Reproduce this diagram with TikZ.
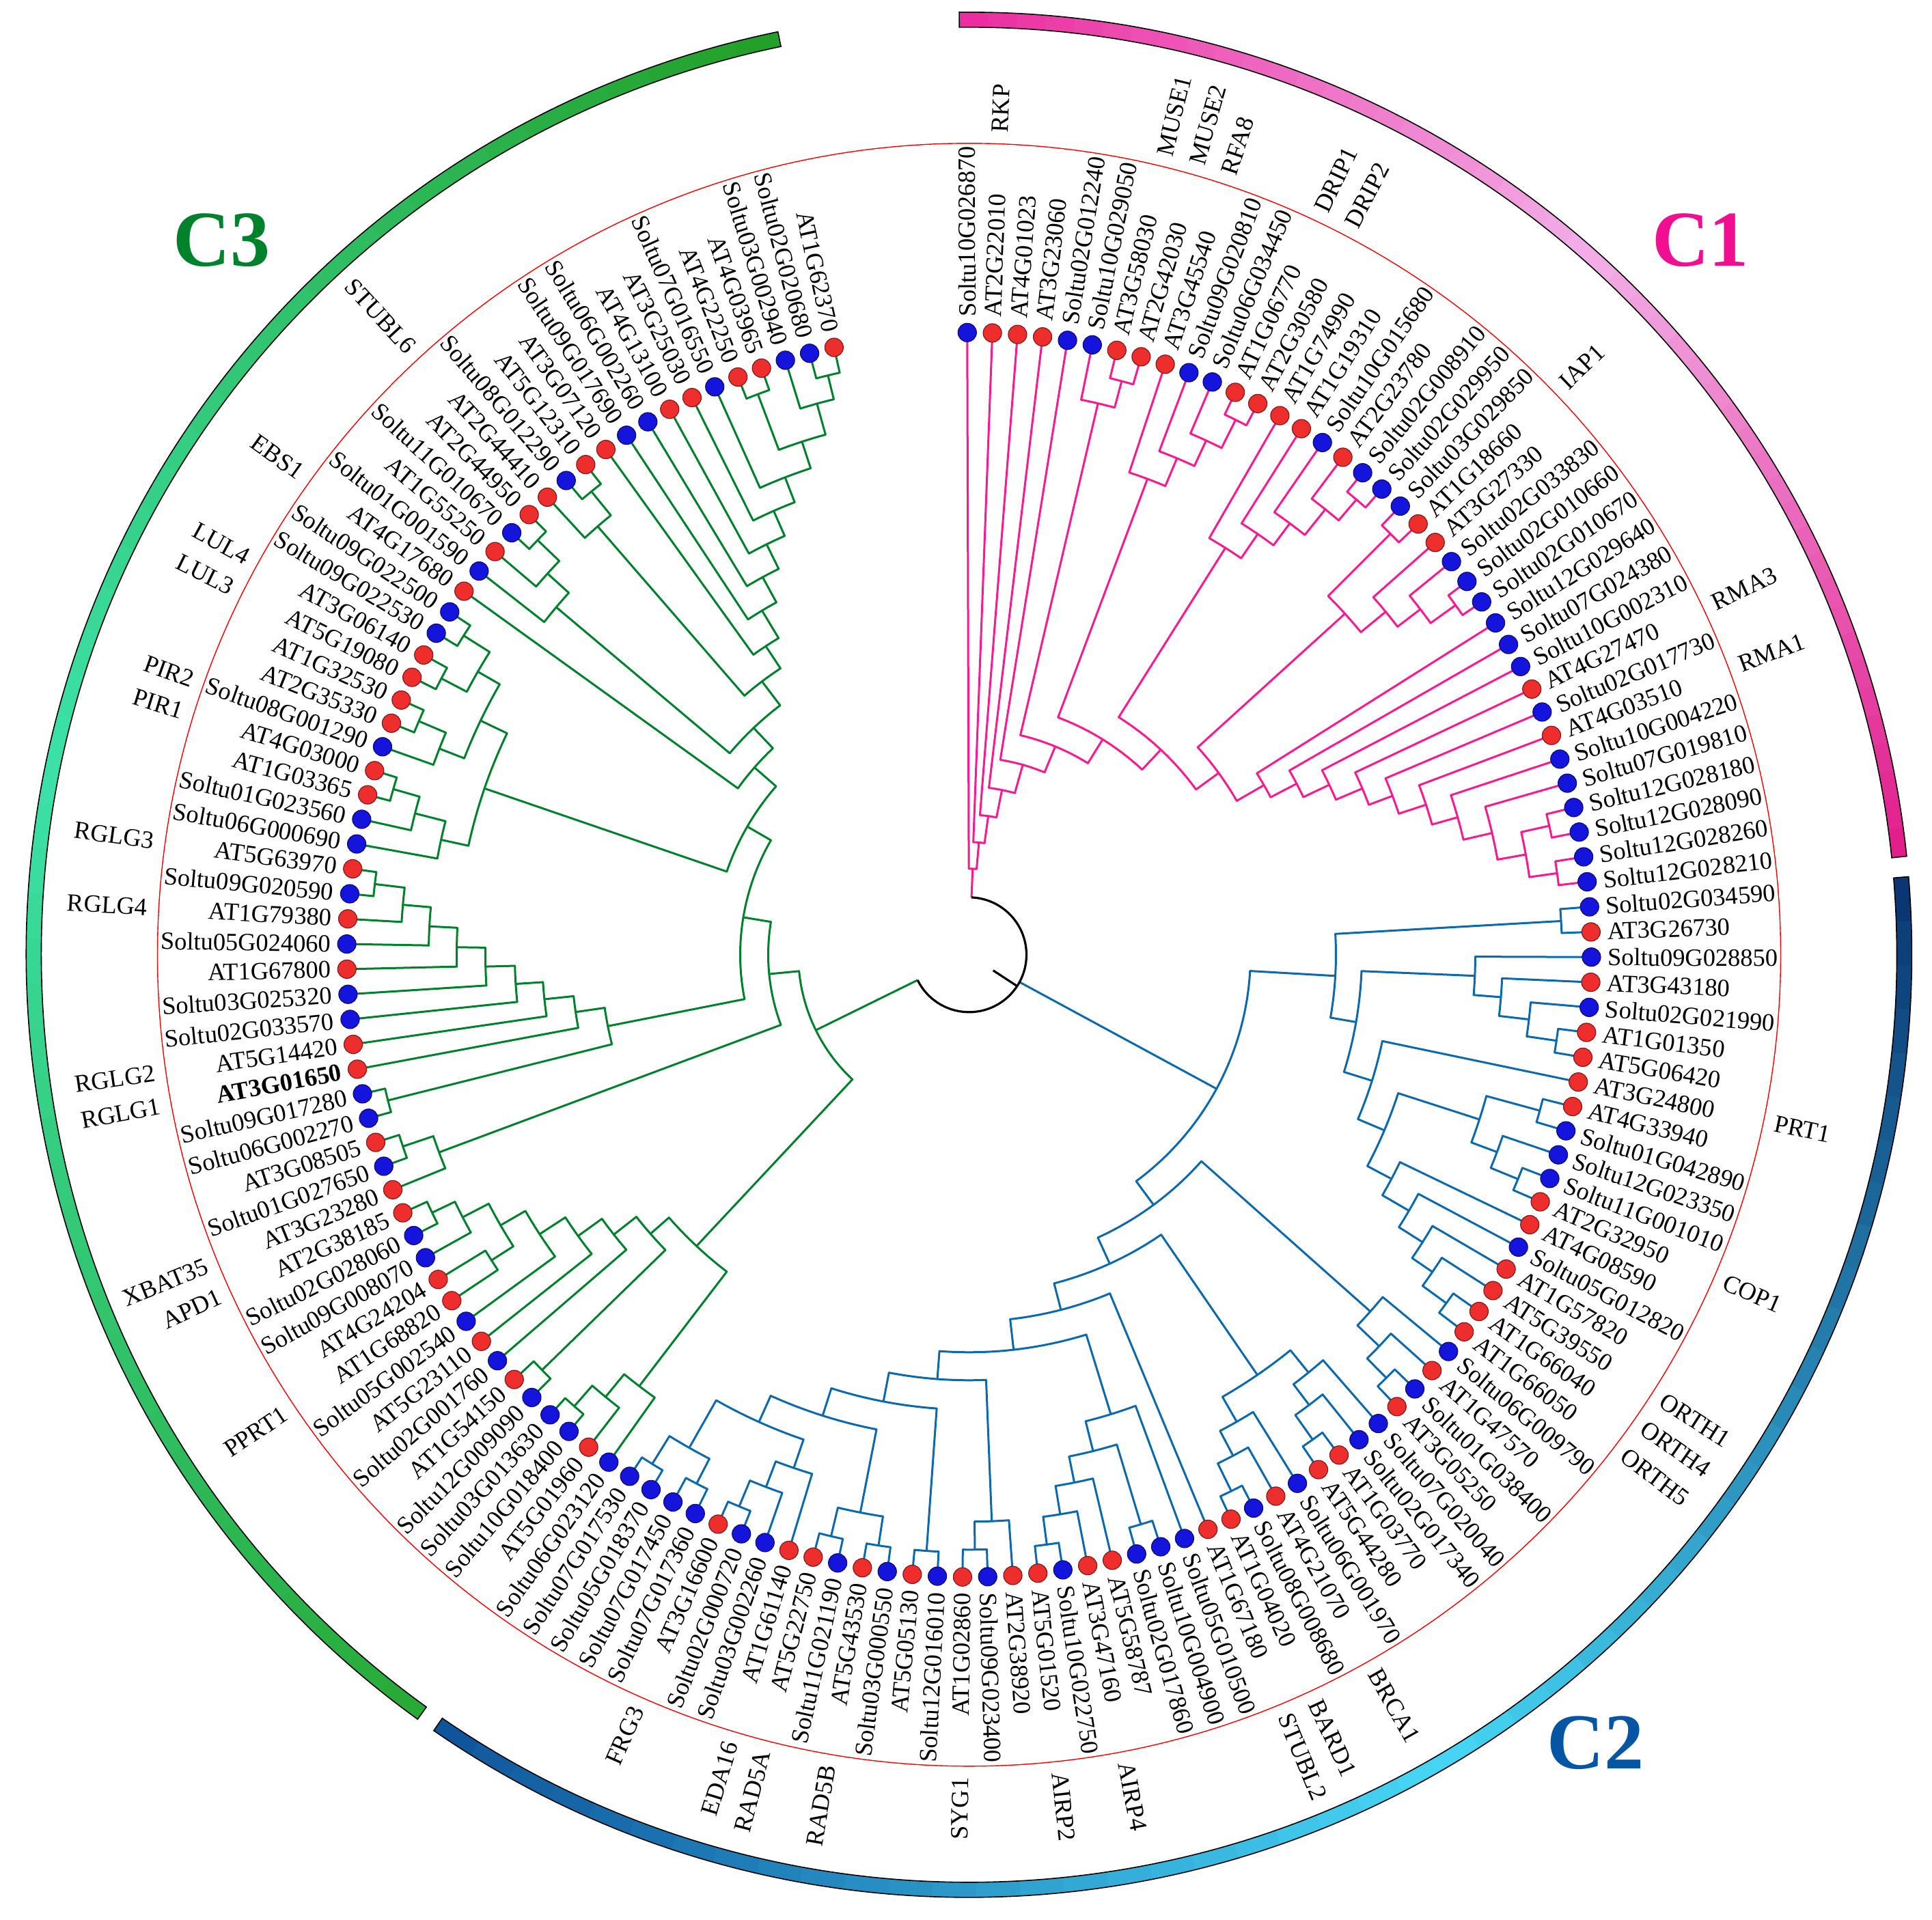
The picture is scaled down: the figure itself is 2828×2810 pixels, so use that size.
\documentclass[tikz,border=0pt]{standalone}
\usepackage{fontspec}
\setmainfont{Liberation Serif}
\usepackage{xcolor}

\definecolor{pinkline}{RGB}{250,25,145}
\definecolor{blueline}{RGB}{10,105,175}
\definecolor{greenline}{RGB}{0,130,45}
\definecolor{dotred}{RGB}{238,45,45}
\definecolor{dotblue}{RGB}{20,20,220}
\definecolor{oneA}{RGB}{235,45,160}
\definecolor{oneB}{RGB}{242,175,232}
\definecolor{oneC}{RGB}{226,30,140}
\definecolor{onetext}{RGB}{240,15,145}
\definecolor{twoA}{RGB}{10,55,115}
\definecolor{twoB}{RGB}{70,215,245}
\definecolor{twoC}{RGB}{15,85,155}
\definecolor{twotext}{RGB}{5,85,165}
\definecolor{threeA}{RGB}{40,170,55}
\definecolor{threeB}{RGB}{60,225,170}
\definecolor{threeC}{RGB}{35,160,40}

\def\astart{90.17}
\def\astep{2.3176}
\def\rleaf{911}
\def\atstr{AT}
\def\boldname{AT3G01650}

% position (in leaf steps) and radius of a tree node
\newcommand\setnode[3]{%
  \expandafter\xdef\csname tp@#1\endcsname{#2}%
  \expandafter\xdef\csname tr@#1\endcsname{#3}}
\newcommand\nodeangle[2]{\pgfmathsetmacro#1{\astart-(\csname tp@#2\endcsname-1)*\astep}}
% internal node: name, radius, children
\newcommand\inode[3]{%
  \gdef\firstch{}%
  \foreach \ch in {#3}{\ifx\firstch\empty\xdef\firstch{\ch}\fi\xdef\lastch{\ch}}%
  \nodeangle\angA{\firstch}%
  \nodeangle\angB{\lastch}%
  \draw[branch] (\angA:#2) arc[start angle=\angA,end angle=\angB,radius=#2];
  \foreach \ch in {#3}{%
    \nodeangle\angC{\ch}%
    \edef\radC{\csname tr@\ch\endcsname}%
    \draw[branch] (\angC:#2) -- (\angC:\radC);}%
  \pgfmathsetmacro\posM{(\csname tp@\firstch\endcsname+\csname tp@\lastch\endcsname)/2}%
  \setnode{#1}{\posM}{#2}%
}
\def\checkat#1#2#3\relax{\def\tmpab{#1#2}\ifx\tmpab\atstr\def\dotc{dotred}\else\def\dotc{dotblue}\fi}
% outer clade band with a three colour run
\newcommand\cladeband[5]{%
  \foreach \k in {0,...,47}{%
    \pgfmathsetmacro\bandA{#1+(#2-#1)*\k/48}%
    \pgfmathsetmacro\bandB{#1+(#2-#1)*min(\k+1.3,48)/48}%
    \ifnum\k<24 \pgfmathtruncatemacro\bandP{(23.5-\k)/23.5*100}\colorlet{bandc}{#3!\bandP!#4}%
    \else \pgfmathtruncatemacro\bandP{(\k-23.5)/23.5*100}\colorlet{bandc}{#5!\bandP!#4}\fi
    \fill[bandc] (\bandA:1358) arc[start angle=\bandA,end angle=\bandB,radius=1358]
      -- (\bandB:1380) arc[start angle=\bandB,end angle=\bandA,radius=1380] -- cycle;
  }%
  \draw[line width=0.4pt] (#1:1358) arc[start angle=#1,end angle=#2,radius=1358]
    -- (#2:1380) arc[start angle=#2,end angle=#1,radius=1380] -- cycle;
}

\begin{document}
\begin{tikzpicture}[x=0.25pt,y=0.25pt,
    lab/.style={font=\fontsize{9.1}{10}\selectfont,inner sep=0pt},
    clade/.style={font=\fontsize{29}{30}\selectfont\bfseries,inner sep=0pt}]
  \useasboundingbox (-1418.5,-1412.2) rectangle (1409.5,1397.8);

  \foreach \i in {1,...,151}{\setnode{\i}{\i}{\rleaf}}

  % C1
  \tikzset{branch/.style={pinkline,line width=0.75pt,line cap=round}}
  \inode{c78}{869}{7,8}
  \inode{nA}{829}{6,c78}
  \inode{c1213}{875}{12,13}
  \inode{b11}{829}{11,c1213}
  \inode{b10}{788}{10,b11}
  \inode{bB1}{744}{9,b10}
  \inode{c1819}{875}{18,19}
  \inode{x17}{835}{17,c1819}
  \inode{x16}{787}{16,x17}
  \inode{x15}{747}{15,x16}
  \inode{bB2a}{704}{14,x15}
  \inode{c2021}{872}{20,21}
  \inode{c2425}{877}{24,25}
  \inode{y23}{832}{23,c2425}
  \inode{y22}{790}{22,y23}
  \inode{nCa}{743}{c2021,y22}
  \inode{c3435}{870}{34,35}
  \inode{c3637}{869}{36,37}
  \inode{z34}{828}{c3435,c3637}
  \inode{z33}{786}{33,z34}
  \inode{z32}{743}{32,z33}
  \inode{z31}{704}{31,z32}
  \inode{z30}{662}{30,z31}
  \inode{z29}{625}{29,z30}
  \inode{z28}{583}{28,z29}
  \inode{z27}{541}{27,z28}
  \inode{z26}{498}{26,z27}
  \inode{bB2b}{452}{nCa,z26}
  \inode{bB2}{411}{bB2a,bB2b}
  \inode{nB}{371}{bB1,bB2}
  \inode{n1f}{330}{nA,nB}
  \inode{n1e}{289}{5,n1f}
  \inode{n1d}{246}{4,n1e}
  \inode{n1c}{205}{3,n1d}
  \inode{n1b}{165}{2,n1c}
  \inode{rootone}{126}{1,n1b}

  % C2
  \tikzset{branch/.style={blueline,line width=0.75pt,line cap=round}}
  \inode{c3839}{868}{38,39}
  \inode{c4344}{869}{43,44}
  \inode{e42}{825}{42,c4344}
  \inode{e41}{781}{41,e42}
  \inode{nE}{741}{40,e41}
  \inode{c4647}{866}{46,47}
  \inode{c4950}{868}{49,50}
  \inode{h48}{825}{48,c4950}
  \inode{nH1}{785}{c4647,h48}
  \inode{c5556}{865}{55,56}
  \inode{g54}{822}{54,c5556}
  \inode{g53}{786}{53,g54}
  \inode{g52}{745}{52,g53}
  \inode{nG2b}{700}{51,g52}
  \inode{nG2}{660}{nH1,nG2b}
  \inode{nF2}{618}{45,nG2}
  \inode{nF}{575}{nE,nF2}
  \inode{nD1}{537}{c3839,nF}
  \inode{c5960}{870}{59,60}
  \inode{k58}{830}{58,c5960}
  \inode{nK}{786}{57,k58}
  \inode{c6364}{870}{63,64}
  \inode{m62}{826}{62,c6364}
  \inode{nM1}{788}{61,m62}
  \inode{c6768}{874}{67,68}
  \inode{m66}{829}{66,c6768}
  \inode{nM2}{788}{65,m66}
  \inode{nM}{746}{nM1,nM2}
  \inode{c7172}{871}{71,72}
  \inode{c7576}{871}{75,76}
  \inode{p74}{830}{74,c7576}
  \inode{p73}{788}{73,p74}
  \inode{nP2}{749}{c7172,p73}
  \inode{nP}{704}{70,nP2}
  \inode{c7879}{871}{78,79}
  \inode{nR}{830}{77,c7879}
  \inode{c8081}{875}{80,81}
  \inode{c8283}{875}{82,83}
  \inode{c8485}{875}{84,85}
  \inode{nT}{832}{c8283,c8485}
  \inode{c8889}{875}{88,89}
  \inode{n87}{834}{87,c8889}
  \inode{n86}{794}{86,n87}
  \inode{c9091}{871}{90,91}
  \inode{c9293}{878}{92,93}
  \inode{w2}{830}{c9091,c9293}
  \inode{nW}{750}{n86,w2}
  \inode{nV}{708}{nT,nW}
  \inode{nS}{666}{c8081,nV}
  \inode{nQ}{623}{nR,nS}
  \inode{nD5}{582}{nP,nQ}
  \inode{nD4}{537}{69,nD5}
  \inode{nD3}{497}{nM,nD4}
  \inode{nD2}{455}{nK,nD3}
  \inode{roottwo}{412}{nD1,nD2}

  % C3
  \tikzset{branch/.style={greenline,line width=0.75pt,line cap=round}}
  \inode{c9697}{878}{96,97}
  \inode{n95}{838}{95,c9697}
  \inode{nN94}{795}{94,n95}
  \inode{c9899}{872}{98,99}
  \inode{c106107}{872}{106,107}
  \inode{n105}{835}{105,c106107}
  \inode{c103104}{830}{103,104}
  \inode{n103}{792}{c103104,n105}
  \inode{n102}{750}{102,n103}
  \inode{n101}{705}{101,n102}
  \inode{n100}{662}{100,n101}
  \inode{nG1u}{620}{c9899,n100}
  \inode{nG1}{584}{nG1u,nN94}
  \inode{c109110}{875}{109,110}
  \inode{nG2a}{828}{108,c109110}
  \inode{c111112}{877}{111,112}
  \inode{c120121}{876}{120,121}
  \inode{n119}{832}{119,c120121}
  \inode{n118}{791}{118,n119}
  \inode{n117}{750}{117,n118}
  \inode{n116}{708}{116,n117}
  \inode{n115}{665}{115,n116}
  \inode{n114}{625}{114,n115}
  \inode{n113}{582}{113,n114}
  \inode{nQ190}{539}{c111112,n113}
  \inode{c124125}{877}{124,125}
  \inode{n123}{837}{123,c124125}
  \inode{nY2}{791}{122,n123}
  \inode{c127128}{875}{127,128}
  \inode{n126}{832}{126,c127128}
  \inode{c129130}{872}{129,130}
  \inode{c131132}{875}{131,132}
  \inode{nZ}{830}{c129130,c131132}
  \inode{nY1}{793}{n126,nZ}
  \inode{nY}{750}{nY1,nY2}
  \inode{c136137}{876}{136,137}
  \inode{n135}{832}{135,c136137}
  \inode{n134}{790}{134,n135}
  \inode{c139140}{875}{139,140}
  \inode{n138}{830}{138,c139140}
  \inode{c150151}{873}{150,151}
  \inode{n149}{837}{149,c150151}
  \inode{c147148}{877}{147,148}
  \inode{n147}{790}{c147148,n149}
  \inode{n146}{749}{146,n147}
  \inode{n145}{710}{145,n146}
  \inode{n144}{670}{144,n145}
  \inode{n143}{630}{143,n144}
  \inode{n142}{588}{142,n143}
  \inode{n141}{541}{141,n142}
  \inode{n140}{502}{n138,n141}
  \inode{n458}{458}{n134,n140}
  \inode{n417}{417}{133,n458}
  \inode{n375}{375}{n417,nY}
  \inode{n335}{335}{n375,nQ190}
  \inode{nG2c}{294}{n335,nG2a}
  \inode{rootthree}{250}{nG2c,nG1}

  % root
  \nodeangle\angOne{rootone}
  \nodeangle\angTwo{roottwo}
  \nodeangle\angThree{rootthree}
  \draw[pinkline,line width=0.75pt] (\angOne:84) -- (\angOne:126);
  \draw[blueline,line width=0.75pt] (\angTwo:84) -- (\angTwo:412);
  \draw[greenline,line width=0.75pt] (\angThree:84) -- (\angThree:250);
  \draw[line width=0.8pt] (\angOne:84) arc[start angle=\angOne,end angle=\angThree,radius=84];
  \pgfmathsetmacro\angRoot{(\angOne+\angThree)/2}
  \draw[line width=0.8pt] (\angRoot:42) -- (\angRoot:84);

  \draw[red,line width=0.35pt] (0,0) circle[radius=1188];

  % leaves
  \foreach \nm [count=\i] in {Soltu10G026870,AT2G22010,AT4G01023,AT3G23060,Soltu02G012240,
    Soltu10G029050,AT3G58030,AT2G42030,AT3G45540,Soltu09G020810,Soltu06G034450,AT1G06770,
    AT2G30580,AT1G74990,AT1G19310,Soltu10G015680,AT2G23780,Soltu02G008910,Soltu02G029950,
    Soltu03G029850,AT1G18660,AT3G27330,Soltu02G033830,Soltu02G010660,Soltu02G010670,
    Soltu12G029640,Soltu07G024380,Soltu10G002310,AT4G27470,Soltu02G017730,AT4G03510,
    Soltu10G004220,Soltu07G019810,Soltu12G028180,Soltu12G028090,Soltu12G028260,Soltu12G028210,
    Soltu02G034590,AT3G26730,Soltu09G028850,AT3G43180,Soltu02G021990,AT1G01350,AT5G06420,
    AT3G24800,AT4G33940,Soltu01G042890,Soltu12G023350,Soltu11G001010,AT2G32950,AT4G08590,
    Soltu05G012820,AT1G57820,AT5G39550,AT1G66040,AT1G66050,Soltu06G009790,AT1G47570,
    Soltu01G038400,AT3G05250,Soltu07G020040,Soltu02G017340,AT1G03770,AT5G44280,Soltu06G001970,
    AT4G21070,Soltu08G008680,AT1G04020,AT1G67180,Soltu05G010500,Soltu10G004900,Soltu02G017860,
    AT5G58787,AT3G47160,Soltu10G022750,AT5G01520,AT2G38920,Soltu09G023400,AT1G02860,
    Soltu12G016010,AT5G05130,Soltu03G000550,AT5G43530,Soltu11G021190,AT5G22750,AT1G61140,
    Soltu03G002260,Soltu02G000720,AT3G16600,Soltu07G017360,Soltu07G017450,Soltu05G018370,
    Soltu07G017530,Soltu06G023120,AT5G01960,Soltu10G018400,Soltu03G013630,Soltu12G009090,
    AT1G54150,Soltu02G001760,AT5G23110,Soltu05G002540,AT1G68820,AT4G24204,Soltu09G008070,
    Soltu02G028060,AT2G38185,AT3G23280,Soltu01G027650,AT3G08505,Soltu06G002270,Soltu09G017280,
    AT3G01650,AT5G14420,Soltu02G033570,Soltu03G025320,AT1G67800,Soltu05G024060,AT1G79380,
    Soltu09G020590,AT5G63970,Soltu06G000690,Soltu01G023560,AT1G03365,AT4G03000,Soltu08G001290,
    AT2G35330,AT1G32530,AT5G19080,AT3G06140,Soltu09G022530,Soltu09G022500,AT4G17680,
    Soltu01G001590,AT1G55250,Soltu11G010670,AT2G44950,AT2G44410,Soltu08G012290,AT5G12310,
    AT3G07120,Soltu09G017690,Soltu06G002260,AT4G13100,AT3G25030,Soltu07G016550,AT4G22250,
    AT4G03965,Soltu03G002940,Soltu02G020680,AT1G62370}{
    \pgfmathsetmacro\lang{\astart-(\i-1)*\astep}
    \expandafter\checkat\nm\relax
    \edef\tmpnm{\nm}
    \ifx\tmpnm\boldname\def\labfont{\bfseries}\else\def\labfont{}\fi
    \pgfmathtruncatemacro\lft{(\lang<-90)?1:0}
    \ifnum\lft=1
      \node[lab,anchor=east,rotate=\lang+180] at (\lang:934) {\labfont\nm};
    \else
      \node[lab,anchor=west,rotate=\lang] at (\lang:934) {\labfont\nm};
    \fi
    \fill[\dotc,draw=\dotc!55!black,line width=0.3pt] (\lang:\rleaf) circle[radius=13.5];
  }

  % gene names
  \foreach \gn/\gi in {RKP/2,MUSE1/7,MUSE2/8,RFA8/9,DRIP1/12,DRIP2/13,IAP1/21,RMA3/29,RMA1/31,
    PRT1/45,COP1/50,ORTH1/54,ORTH4/55,ORTH5/56,BRCA1/66,BARD1/68,STUBL2/69,AIRP4/74,AIRP2/76,
    SYG1/79,RAD5B/83,RAD5A/85,EDA16/86,FRG3/89,PPRT1/103,APD1/107,XBAT35/108,RGLG1/113,
    RGLG2/114,RGLG4/119,RGLG3/121,PIR1/125,PIR2/126,LUL3/129,LUL4/130,EBS1/133,STUBL6/138}{
    \pgfmathsetmacro\lang{\astart-(\gi-1)*\astep}
    \pgfmathtruncatemacro\lft{(\lang<-90)?1:0}
    \ifnum\lft=1
      \node[lab,anchor=east,rotate=\lang+180] at (\lang:1204) {\gn};
    \else
      \node[lab,anchor=west,rotate=\lang] at (\lang:1204) {\gn};
    \fi
  }

  % clade bands
  \cladeband{90.6}{6.0}{oneA}{oneB}{oneC}
  \cladeband{4.75}{-124.6}{twoA}{twoB}{twoC}
  \cladeband{-125.8}{-258.3}{threeA}{threeB}{threeC}

  \node[clade,text=onetext] at (1070.5,1045.8) {C1};
  \node[clade,text=twotext] at (917.2,-1154.2) {C2};
  \node[clade,text=greenline] at (-1093.9,1046.1) {C3};
\end{tikzpicture}
\end{document}
